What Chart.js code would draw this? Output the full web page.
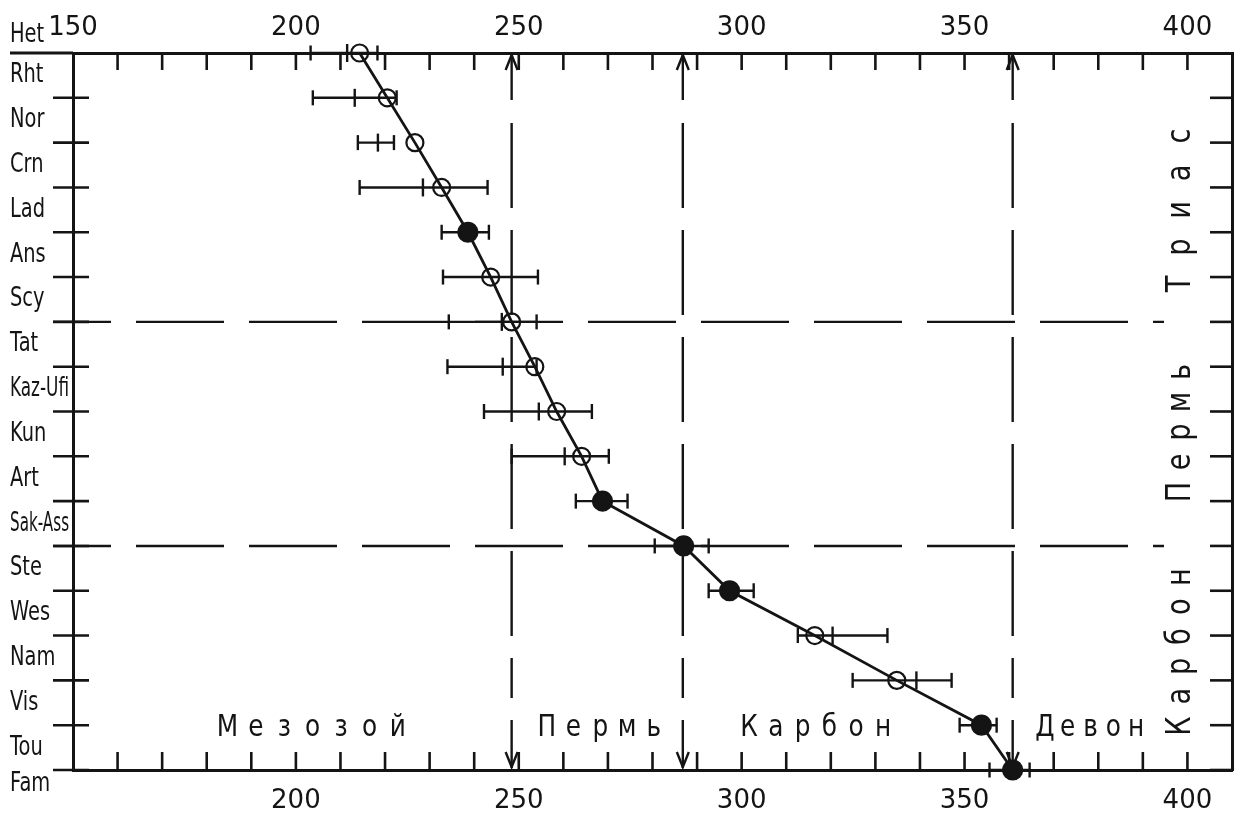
<!DOCTYPE html>
<html>
<head>
<meta charset="utf-8">
<script src="https://cdn.jsdelivr.net/npm/chart.js@4.4.0/dist/chart.umd.min.js"></script>
<style>
  html, body { margin: 0; padding: 0; background: #fff; overflow: hidden; }
  #wrap { width: 1236px; height: 821px; }
  canvas { display: block; }
</style>
</head>
<body>
<div id="wrap"><canvas id="ageChart" width="1236" height="821"></canvas></div>
<script>
// stages from top to bottom; each point sits on the boundary between two neighbours
var stages = ['Het', 'Rht', 'Nor', 'Crn', 'Lad', 'Ans', 'Scy', 'Tat', 'Kaz-Ufi', 'Kun', 'Art', 'Sak-Ass', 'Ste', 'Wes', 'Nam', 'Vis', 'Tou', 'Fam'];

// boundary ages, Ma (boundary i lies between stages[i] and stages[i + 1])
var ages = [214.3, 220.5, 226.7, 232.7, 238.6, 243.7, 248.4, 253.6, 258.5, 264.1, 268.8, 287.0, 297.3, 316.4, 334.8, 353.8, 360.8];
var filled = [false, false, false, false, true, false, false, false, false, false, true, true, true, false, false, true, true];

// spread of the estimates and the inner mark on each bar
var errLow  = [203.3, 203.8, 213.9, 214.3, 232.7, 233.0, 234.3, 234.0, 242.2, 248.4, 262.8, 280.5, 292.6, 312.6, 324.9, 348.9, 355.6];
var errHigh = [218.3, 222.6, 222.0, 243.0, 243.3, 254.3, 254.0, 254.0, 266.4, 270.2, 274.4, 292.6, 302.7, 332.7, 347.1, 357.2, 364.6];
var errMid  = [211.5, 213.2, 218.4, 228.5, null, null, 246.2, 246.4, 254.5, 260.3, null, null, null, 320.4, 339.2, null, null];

var xTicksTop = [150, 200, 250, 300, 350, 400];
var xTicksBottom = [200, 250, 300, 350, 400];

// period boundaries: vertical arrows (age) and horizontal dashes (boundary row)
var periodAges = [248.4, 286.8, 360.8];
var periodRows = [6, 11];

var bottomNames = ['Мезозой', 'Пермь', 'Карбон', 'Девон'];
var sideNames = ['Триас', 'Пермь', 'Карбон'];

var ink = '#141414';
var fontFamily = "'DejaVu Sans', 'Liberation Sans', sans-serif";

function seg(ctx, x1, y1, x2, y2) {
  ctx.beginPath();
  ctx.moveTo(x1, y1);
  ctx.lineTo(x2, y2);
  ctx.stroke();
}

// letters placed on a fixed pitch, like stencil lettering
function spacedText(ctx, text, x0, pitch, y, sx) {
  for (var i = 0; i < text.length; i++) {
    ctx.save();
    ctx.translate(x0 + i * pitch, y);
    ctx.scale(sx, 1);
    ctx.fillText(text[i], 0, 0);
    ctx.restore();
  }
}

function verticalText(ctx, text, x, y0, pitch, sx) {
  for (var i = 0; i < text.length; i++) {
    ctx.save();
    ctx.translate(x, y0 - i * pitch);
    ctx.rotate(-Math.PI / 2);
    ctx.scale(sx, 1);
    ctx.fillText(text[i], 0, 0);
    ctx.restore();
  }
}

var decor = {
  id: 'decor',
  beforeDatasetsDraw: function(chart) {
    var ctx = chart.ctx, a = chart.chartArea;
    var xs = chart.scales.x, ys = chart.scales.y;
    ctx.save();
    ctx.strokeStyle = ink;
    ctx.lineWidth = 2.4;

    // dashed stage boundaries between periods
    ctx.setLineDash([88, 25]);
    ctx.lineDashOffset = 30;
    periodRows.forEach(function(r) {
      var y = ys.getPixelForValue(r);
      seg(ctx, a.left - 20, y, a.right - 68, y);
    });

    // dashed period ages with arrows at both axes
    periodAges.forEach(function(v) {
      var x = xs.getPixelForValue(v);
      ctx.setLineDash([]);
      seg(ctx, x, a.top + 2, x, a.top + 47);
      seg(ctx, x, a.bottom - 50, x, a.bottom - 2);
      ctx.beginPath();
      ctx.moveTo(x - 6, a.top + 17); ctx.lineTo(x, a.top + 2); ctx.lineTo(x + 6, a.top + 17);
      ctx.moveTo(x - 6, a.bottom - 18); ctx.lineTo(x, a.bottom - 3); ctx.lineTo(x + 6, a.bottom - 18);
      ctx.stroke();
      ctx.setLineDash([85, 22]);
      ctx.lineDashOffset = 0;
      seg(ctx, x, a.top + 70, x, a.bottom - 72);
    });
    ctx.setLineDash([]);

    // horizontal error bars
    for (var i = 0; i < ages.length; i++) {
      var y = ys.getPixelForValue(i);
      var x1 = xs.getPixelForValue(errLow[i]);
      var x2 = xs.getPixelForValue(errHigh[i]);
      seg(ctx, x1, y, x2, y);
      seg(ctx, x1, y - 7.5, x1, y + 7.5);
      seg(ctx, x2, y - 7.5, x2, y + 7.5);
      if (errMid[i] !== null) {
        var xm = xs.getPixelForValue(errMid[i]);
        seg(ctx, xm, y - 9, xm, y + 9);
      }
    }
    ctx.restore();
  },
  afterDraw: function(chart) {
    var ctx = chart.ctx, a = chart.chartArea;
    var xs = chart.scales.x, ys = chart.scales.y;
    ctx.save();
    ctx.strokeStyle = ink;
    ctx.fillStyle = ink;
    ctx.lineWidth = 2.6;

    // inward ticks every 10 Ma on top and bottom
    for (var v = 160; v <= 400; v += 10) {
      var x = xs.getPixelForValue(v);
      seg(ctx, x, a.top, x, a.top + 17);
      seg(ctx, x, a.bottom, x, a.bottom - 18);
    }
    // stage boundary ticks on both sides
    for (var r = 1; r < stages.length - 1; r++) {
      var y = ys.getPixelForValue(r);
      seg(ctx, a.left - 20, y, a.left + 16, y);
      seg(ctx, a.right, y, a.right - 22, y);
    }
    // top axis runs out under the first stage name
    ctx.lineWidth = 3;
    seg(ctx, 10, a.top, a.left, a.top);

    // stage names between the boundaries
    ctx.font = '27px ' + fontFamily;
    ctx.textAlign = 'left';
    ctx.textBaseline = 'middle';
    stages.forEach(function(name, i) {
      var y = ys.getPixelForValue(i - 0.5);
      if (i === 0) y += 4;
      if (i === stages.length - 1) y -= 8;
      ctx.save();
      ctx.translate(10, y);
      ctx.scale(0.72, 1);
      ctx.fillText(name, 0, 0, 82);
      ctx.restore();
    });

    // period names along the bottom
    ctx.font = '31px ' + fontFamily;
    ctx.textAlign = 'center';
    ctx.textBaseline = 'alphabetic';
    var bx = [227.5, 546.7, 749, 1045];
    var bp = [28.4, 26.8, 26.8, 22.75];
    bottomNames.forEach(function(name, i) {
      spacedText(ctx, name, bx[i], bp[i], a.bottom - 34, 0.8);
    });

    // period names up the right side
    ctx.font = '34px ' + fontFamily;
    var sy = [284, 492, 726];
    var sp = [37, 30, 29.8];
    sideNames.forEach(function(name, i) {
      verticalText(ctx, name, a.right - 42, sy[i], sp[i], 0.8);
    });
    ctx.restore();
  }
};

var tickFont = { family: fontFamily, size: 26 };

function xAxis(position, ticks, height, pad) {
  return {
    type: 'linear',
    position: position,
    min: 150,
    max: 410,
    afterBuildTicks: function(s) { s.ticks = ticks.map(function(v) { return { value: v }; }); },
    afterFit: function(s) {
      s.height = height;
      s.paddingLeft = 0;
      s.paddingRight = 0;
    },
    grid: { display: false, drawTicks: false },
    border: { display: true, color: ink, width: 3 },
    ticks: { color: ink, font: tickFont, padding: pad, maxRotation: 0, autoSkip: false }
  };
}

new Chart(document.getElementById('ageChart'), {
  type: 'scatter',
  data: {
    datasets: [{
      data: ages.map(function(v, i) { return { x: v, y: i }; }),
      xAxisID: 'x',
      yAxisID: 'y',
      showLine: true,
      borderColor: ink,
      borderWidth: 2.8,
      pointRadius: filled.map(function(f) { return f ? 9.5 : 8.5; }),
      pointBorderWidth: 2.2,
      pointBorderColor: ink,
      pointBackgroundColor: filled.map(function(f) { return f ? ink : 'rgba(255,255,255,0)'; }),
      clip: false
    }]
  },
  options: {
    responsive: false,
    animation: false,
    devicePixelRatio: 1,
    events: [],
    layout: { autoPadding: false, padding: { left: 0, right: 4, top: 0, bottom: 0 } },
    plugins: { legend: { display: false }, tooltip: { enabled: false } },
    scales: {
      x: xAxis('bottom', xTicksBottom, 51, 16),
      xTop: xAxis('top', xTicksTop, 53, 9),
      y: {
        type: 'linear',
        position: 'left',
        reverse: true,
        min: 0,
        max: stages.length - 2,
        ticks: { display: false },
        grid: { display: false, drawTicks: false },
        border: { display: true, color: ink, width: 3 },
        afterFit: function(s) { s.width = 73; }
      },
      yRight: {
        type: 'linear',
        position: 'right',
        reverse: true,
        min: 0,
        max: stages.length - 2,
        ticks: { display: false },
        grid: { display: false, drawTicks: false },
        border: { display: true, color: ink, width: 3 },
        afterFit: function(s) { s.width = 0; }
      }
    }
  },
  plugins: [decor]
});
</script>
</body>
</html>
